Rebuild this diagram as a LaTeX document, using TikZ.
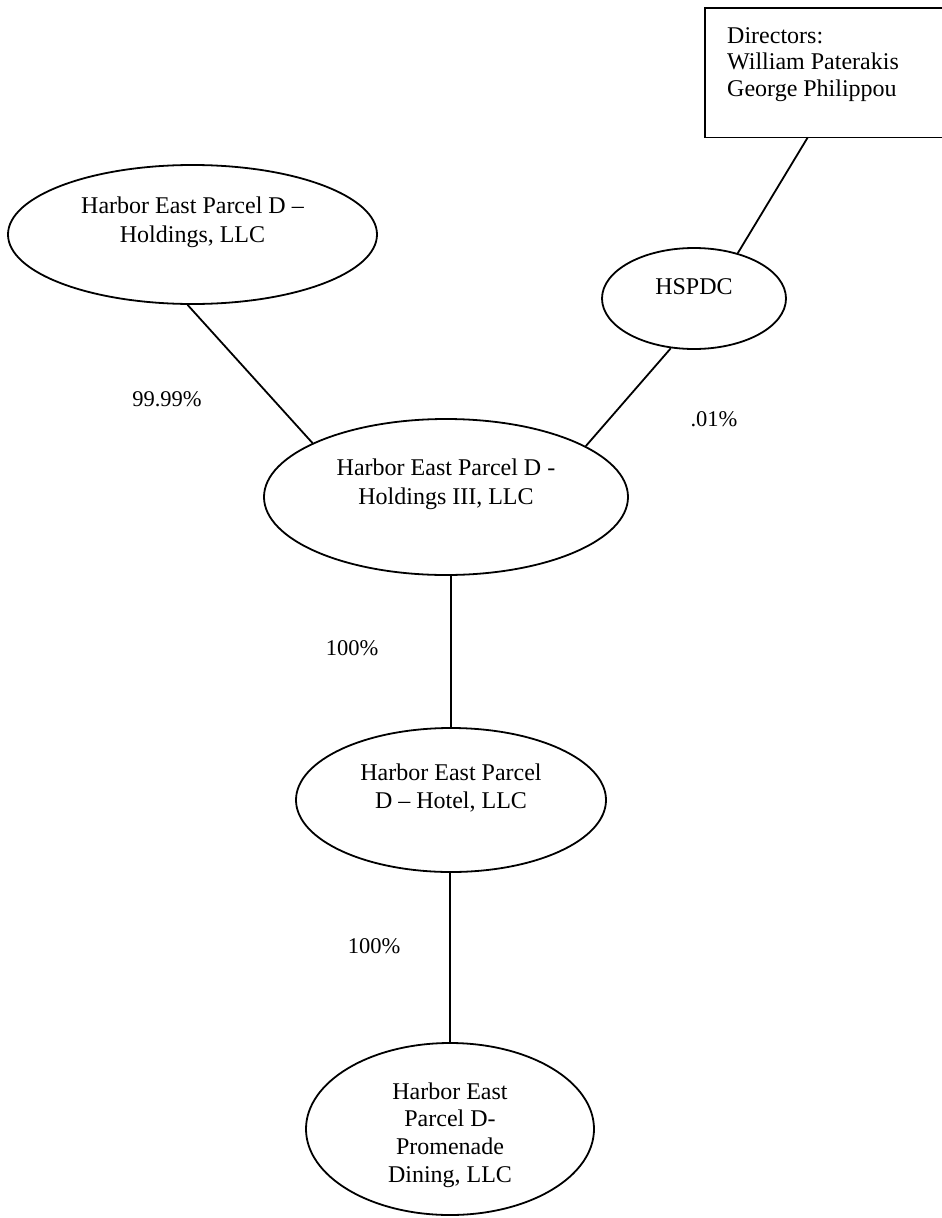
\documentclass[tikz,border=0pt]{standalone}
\usepackage{fontspec}
\setmainfont{Liberation Serif}
\usetikzlibrary{shapes.geometric}
\begin{document}
\begin{tikzpicture}[x=1pt,y=-1pt,
  ent/.style={draw, ellipse, line width=1.8pt, inner sep=0pt},
  txt/.style={align=center, font=\fontsize{24}{28.5}\selectfont, inner sep=0pt},
  pct/.style={font=\fontsize{22.5}{27}\selectfont, inner sep=0pt},
  conn/.style={line width=1.8pt}]
\useasboundingbox (0,0) rectangle (942,1218);

% directors box (its right side runs off the page)
\node[minimum width=260pt, minimum height=129pt, inner sep=0pt, anchor=north west] (dir) at (705,8) {};
\draw[conn] (dir.north east) -- (dir.north west) -- (dir.south west) -- (dir.south east);
\node[anchor=north west, align=left, inner sep=0pt, font=\fontsize{24}{26.5}\selectfont] (dirt) at (727,27) {Directors:\\William Paterakis\\George Philippou};

% entities
\node[ent, minimum width=369pt, minimum height=139pt] (llc) at (192.5,234.5) {};
\node[txt] (llct) at (192.5,222.5) {Harbor East Parcel D –\\Holdings, LLC};

\node[ent, minimum width=184pt, minimum height=101pt] (hspdc) at (694,298.5) {};
\node[txt] (hspdct) at (694,287) {HSPDC};

\node[ent, minimum width=364pt, minimum height=156pt] (iii) at (446,497) {};
\node[txt] (iiit) at (446,484.5) {Harbor East Parcel D -\\Holdings III, LLC};

\node[ent, minimum width=310pt, minimum height=144pt] (hotel) at (451,800) {};
\node[txt] (hotelt) at (451,788) {Harbor East Parcel\\D – Hotel, LLC};

\node[ent, minimum width=288pt, minimum height=172pt] (prom) at (450,1129) {};
\node[txt, font=\fontsize{24}{27.7}\selectfont] (promt) at (450,1135) {Harbor East\\Parcel D-\\Promenade\\Dining, LLC};

% connectors
\draw[conn] (dir.-113.5) -- (hspdc.46.3);
\draw[conn] (llc.-94.1) -- (iii.158.05);
\draw[conn] (hspdc.-115.2) -- (iii.20.8);
\draw[conn] (iii.south -| hotel.north) -- (hotel.north);
\draw[conn] (hotel.south -| prom.north) -- (prom.north);

% percentages
\node[pct] (p1) at (167,399) {99.99\%};
\node[pct] (p2) at (714,419) {.01\%};
\node[pct] (p3) at (352,648) {100\%};
\node[pct] (p4) at (374,946) {100\%};
\end{tikzpicture}
\end{document}
